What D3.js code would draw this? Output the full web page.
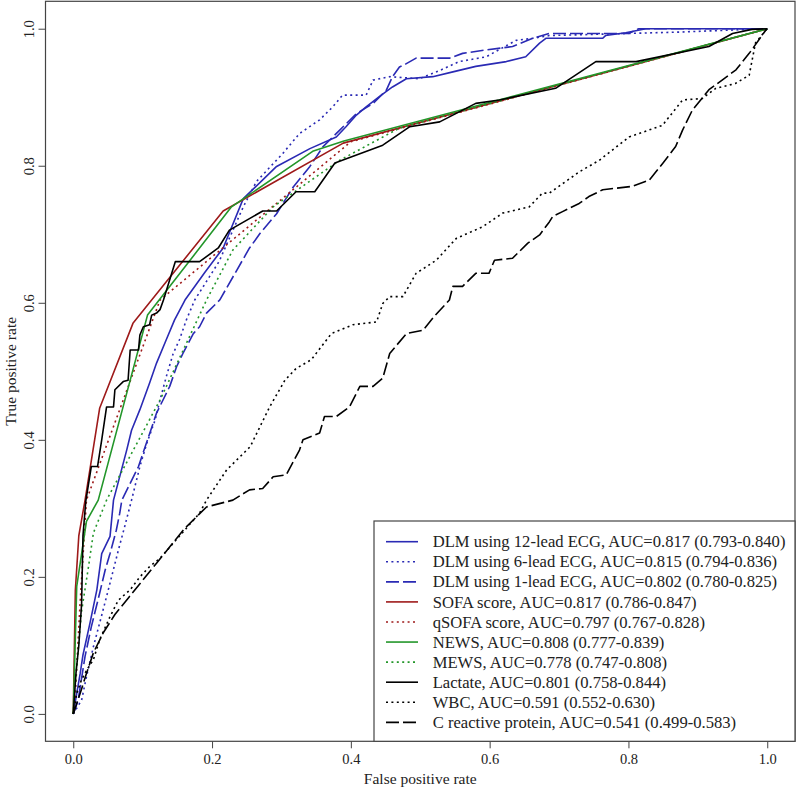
<!DOCTYPE html>
<html><head><meta charset="utf-8">
<script src="https://cdn.jsdelivr.net/npm/d3@7"></script>
<style>html,body{margin:0;padding:0;background:#fff;}svg text{font-family:"Liberation Serif","Times New Roman",serif;fill:#222;}</style>
</head><body><div id="chart"></div>
<script>
// ---- data: [false positive rate, true positive rate] ----
const dlm12 = [[0,0],[0.005,0.03],[0.01,0.059],[0.014,0.086],[0.024,0.132],[0.034,0.181],[0.041,0.234],[0.053,0.259],[0.058,0.312],[0.077,0.385],[0.084,0.414],[0.096,0.444],[0.11,0.483],[0.12,0.512],[0.134,0.546],[0.146,0.575],[0.161,0.604],[0.19,0.645],[0.216,0.68],[0.245,0.752],[0.293,0.799],[0.341,0.825],[0.379,0.842],[0.393,0.857],[0.408,0.874],[0.422,0.886],[0.441,0.901],[0.46,0.915],[0.48,0.927],[0.518,0.93],[0.547,0.937],[0.58,0.945],[0.624,0.952],[0.652,0.959],[0.672,0.979],[0.681,0.986],[0.763,0.986],[0.767,0.99],[0.796,0.994],[0.825,1],[1,1]];
const dlm6 = [[0,0],[0.012,0.02],[0.019,0.054],[0.029,0.098],[0.041,0.144],[0.053,0.191],[0.065,0.239],[0.074,0.273],[0.084,0.312],[0.096,0.361],[0.106,0.395],[0.118,0.429],[0.125,0.458],[0.134,0.492],[0.144,0.526],[0.153,0.546],[0.163,0.575],[0.175,0.604],[0.21,0.66],[0.245,0.74],[0.264,0.777],[0.302,0.818],[0.326,0.847],[0.355,0.867],[0.374,0.886],[0.388,0.903],[0.422,0.903],[0.432,0.925],[0.456,0.93],[0.499,0.927],[0.528,0.939],[0.556,0.952],[0.595,0.959],[0.638,0.983],[0.662,0.986],[0.686,0.99],[0.871,0.995],[1,1]];
const dlm1 = [[0,0],[0.007,0.02],[0.017,0.084],[0.026,0.127],[0.038,0.176],[0.046,0.21],[0.053,0.234],[0.062,0.268],[0.067,0.293],[0.07,0.312],[0.094,0.361],[0.11,0.409],[0.12,0.439],[0.139,0.478],[0.149,0.507],[0.158,0.526],[0.173,0.555],[0.182,0.565],[0.192,0.585],[0.211,0.604],[0.254,0.68],[0.269,0.701],[0.293,0.73],[0.317,0.769],[0.341,0.799],[0.36,0.828],[0.384,0.852],[0.408,0.876],[0.432,0.891],[0.451,0.91],[0.46,0.93],[0.47,0.944],[0.48,0.949],[0.494,0.957],[0.542,0.957],[0.561,0.964],[0.595,0.969],[0.633,0.974],[0.662,0.986],[0.686,0.993],[0.8,0.993],[0.815,1],[1,1]];
const sofa = [[0,0],[0.003,0.18],[0.008,0.26],[0.017,0.312],[0.038,0.446],[0.086,0.57],[0.216,0.734],[0.389,0.833],[1,1]];
const qsofa = [[0,0],[0.0025,0.02],[0.0096,0.157],[0.019,0.312],[0.125,0.604],[0.4,0.835],[1,1]];
const news = [[0,0],[0.005,0.186],[0.019,0.281],[0.036,0.312],[0.107,0.582],[0.228,0.74],[0.345,0.821],[0.39,0.836],[1,1]];
const mews = [[0,0],[0.005,0.07],[0.012,0.15],[0.022,0.215],[0.029,0.264],[0.048,0.312],[0.125,0.458],[0.192,0.604],[0.23,0.677],[0.288,0.74],[0.384,0.808],[0.47,0.855],[1,1]];
const lactate = [[0,0],[0.004,0.06],[0.008,0.1],[0.012,0.16],[0.014,0.26],[0.018,0.31],[0.026,0.361],[0.035,0.361],[0.041,0.4],[0.048,0.448],[0.058,0.448],[0.06,0.473],[0.072,0.485],[0.079,0.487],[0.082,0.531],[0.094,0.531],[0.096,0.553],[0.101,0.565],[0.11,0.568],[0.113,0.582],[0.12,0.585],[0.125,0.59],[0.13,0.604],[0.147,0.66],[0.182,0.66],[0.209,0.68],[0.225,0.706],[0.273,0.734],[0.293,0.734],[0.321,0.762],[0.348,0.762],[0.377,0.804],[0.446,0.83],[0.485,0.857],[0.528,0.864],[0.58,0.891],[0.614,0.896],[0.695,0.913],[0.753,0.952],[0.811,0.952],[0.916,0.974],[0.95,0.993],[0.978,0.999],[1,1]];
const wbc = [[0,0],[0.005,0.03],[0.012,0.05],[0.02,0.065],[0.029,0.079],[0.038,0.108],[0.053,0.142],[0.065,0.166],[0.082,0.181],[0.096,0.2],[0.11,0.215],[0.125,0.227],[0.144,0.249],[0.163,0.271],[0.182,0.293],[0.192,0.312],[0.221,0.356],[0.255,0.39],[0.283,0.448],[0.305,0.487],[0.321,0.504],[0.343,0.517],[0.372,0.555],[0.403,0.568],[0.437,0.572],[0.446,0.599],[0.456,0.609],[0.475,0.609],[0.494,0.643],[0.523,0.662],[0.552,0.694],[0.59,0.711],[0.619,0.731],[0.657,0.74],[0.676,0.76],[0.686,0.76],[0.729,0.791],[0.758,0.808],[0.801,0.842],[0.849,0.859],[0.878,0.896],[0.906,0.898],[0.926,0.913],[0.954,0.92],[0.974,0.932],[0.983,0.979],[0.998,0.998],[1,1]];
const crp = [[0,0],[0.01,0.03],[0.019,0.059],[0.029,0.089],[0.043,0.118],[0.06,0.145],[0.08,0.17],[0.1,0.195],[0.12,0.22],[0.14,0.245],[0.16,0.27],[0.18,0.29],[0.192,0.302],[0.23,0.312],[0.254,0.327],[0.273,0.329],[0.288,0.346],[0.307,0.349],[0.326,0.385],[0.331,0.4],[0.355,0.41],[0.362,0.434],[0.379,0.434],[0.398,0.448],[0.413,0.478],[0.432,0.478],[0.446,0.49],[0.456,0.526],[0.48,0.555],[0.504,0.56],[0.52,0.58],[0.542,0.604],[0.547,0.624],[0.561,0.624],[0.58,0.643],[0.599,0.643],[0.607,0.662],[0.633,0.665],[0.655,0.687],[0.672,0.699],[0.686,0.718],[0.691,0.726],[0.705,0.733],[0.729,0.745],[0.743,0.755],[0.763,0.765],[0.806,0.77],[0.83,0.779],[0.849,0.803],[0.868,0.828],[0.878,0.852],[0.892,0.881],[0.916,0.911],[0.935,0.925],[0.955,0.94],[0.974,0.964],[0.998,0.998],[1,1]];

const seriesNames = ["DLM using 12-lead ECG, AUC=0.817 (0.793-0.840)","DLM using 6-lead ECG, AUC=0.815 (0.794-0.836)","DLM using 1-lead ECG, AUC=0.802 (0.780-0.825)","SOFA score, AUC=0.817 (0.786-0.847)","qSOFA score, AUC=0.797 (0.767-0.828)","NEWS, AUC=0.808 (0.777-0.839)","MEWS, AUC=0.778 (0.747-0.808)","Lactate, AUC=0.801 (0.758-0.844)","WBC, AUC=0.591 (0.552-0.630)","C reactive protein, AUC=0.541 (0.499-0.583)"];
const seriesData = [dlm12, dlm6, dlm1, sofa, qsofa, news, mews, lactate, wbc, crp];
const tickValues = [0, 0.2, 0.4, 0.6, 0.8, 1.0];
const tickLabels = ["0.0","0.2","0.4","0.6","0.8","1.0"];
const xTitle = "False positive rate";
const yTitle = "True positive rate";

// ---- styles ----
const BLUE = "#2a2ab4", RED = "#9e1a1a", GREEN = "#23962a", BLACK = "#000000";
const SOLID = null, DOT = "2,3.4", DASH = "13,4";
const styles = [[BLUE,SOLID],[BLUE,DOT],[BLUE,DASH],[RED,SOLID],[RED,DOT],[GREEN,SOLID],[GREEN,DOT],[BLACK,SOLID],[BLACK,DOT],[BLACK,DASH]];

const W = 797, H = 788;
const frame = {l:45.5, r:795, t:1.3, b:741.3};
const x = d3.scaleLinear().domain([-0.04,1.04]).range([frame.l, frame.r]);
const y = d3.scaleLinear().domain([-0.04,1.04]).range([frame.b, frame.t]);

const svg = d3.select("#chart").append("svg").attr("width",W).attr("height",H);

svg.append("clipPath").attr("id","clip").append("rect")
  .attr("x",frame.l).attr("y",frame.t).attr("width",frame.r-frame.l).attr("height",frame.b-frame.t);

const line = d3.line().x(d=>x(d[0])).y(d=>y(d[1]));
const g = svg.append("g").attr("clip-path","url(#clip)");
seriesData.forEach((d,i)=>{
  g.append("path").attr("d",line(d)).attr("fill","none")
   .attr("stroke",styles[i][0]).attr("stroke-width",1.6)
   .attr("stroke-dasharray",styles[i][1]).attr("stroke-linejoin","round");
});

// axes
const xAxis = d3.axisBottom(x).tickValues(tickValues).tickFormat((d,i)=>tickLabels[i]).tickSize(7).tickPadding(5);
const gx = svg.append("g").attr("transform",`translate(0,${frame.b})`).call(xAxis);
gx.select(".domain").remove();
gx.selectAll("line").attr("stroke","#444");
gx.selectAll("text").attr("font-size",14.5).attr("font-family","Liberation Serif").attr("fill","#222");

const yAxis = d3.axisLeft(y).tickValues(tickValues).tickFormat((d,i)=>tickLabels[i]).tickSize(7).tickPadding(5);
const gy = svg.append("g").attr("transform",`translate(${frame.l},0)`).call(yAxis);
gy.select(".domain").remove();
gy.selectAll("line").attr("stroke","#444");
gy.selectAll("text").attr("font-size",14.5).attr("font-family","Liberation Serif").attr("fill","#222")
  .attr("text-anchor","middle").attr("x",null)
  .attr("transform","translate(-17,0) rotate(-90)").attr("dy","0.35em");

// frame
svg.append("rect").attr("x",frame.l).attr("y",frame.t).attr("width",frame.r-frame.l).attr("height",frame.b-frame.t)
  .attr("fill","none").attr("stroke","#444").attr("stroke-width",1.2);

// titles
svg.append("text").attr("x",x(0.5)).attr("y",784).attr("text-anchor","middle").attr("font-size",15.5).text(xTitle);
svg.append("text").attr("transform",`translate(16,${(frame.t+frame.b)/2}) rotate(-90)`).attr("text-anchor","middle").attr("font-size",15.5).text(yTitle);

// legend
const leg = {l:374, t:521, r:frame.r, b:frame.b};
svg.append("rect").attr("x",leg.l).attr("y",leg.t).attr("width",leg.r-leg.l).attr("height",leg.b-leg.t)
  .attr("fill","#fff").attr("stroke","#444").attr("stroke-width",1.2);
seriesNames.forEach((name,i)=>{
  const yy = 541.7 + i*20.07;
  svg.append("line").attr("x1",386).attr("x2",418).attr("y1",yy).attr("y2",yy)
    .attr("stroke",styles[i][0]).attr("stroke-width",1.6).attr("stroke-dasharray",styles[i][1]);
  svg.append("text").attr("x",432.7).attr("y",yy).attr("dy","0.34em").attr("font-size",16.6).text(name);
});
</script></body></html>
